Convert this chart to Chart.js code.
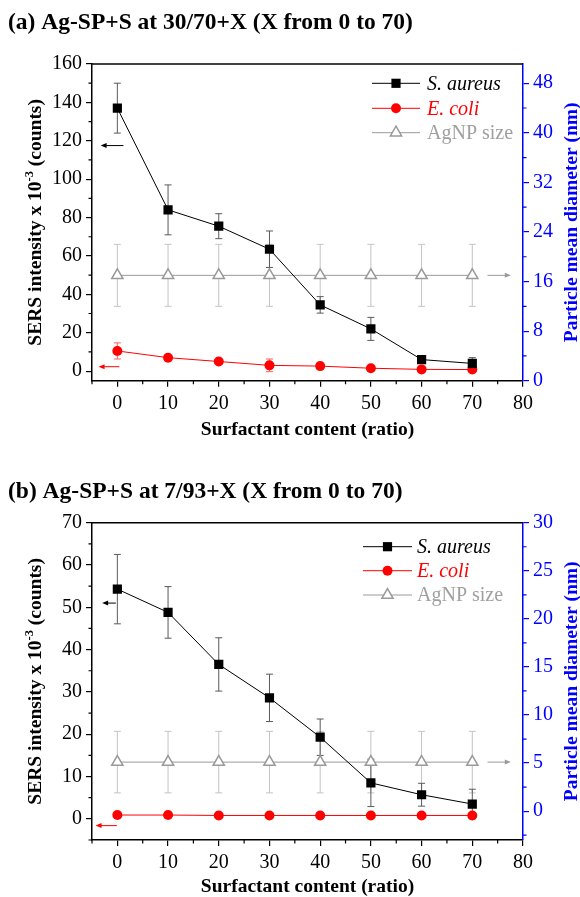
<!DOCTYPE html>
<html>
<head>
<meta charset="utf-8">
<script src="https://cdn.jsdelivr.net/npm/chart.js@4.4.1/dist/chart.umd.min.js"></script>
<style>
  html, body { margin: 0; padding: 0; background: #fff; }
  canvas { display: block; }
</style>
</head>
<body>
<canvas id="chart-a" width="580" height="448"></canvas>
<canvas id="chart-b" width="580" height="449"></canvas>
<script>
/* ── DATA ─────────────────────────────────────────────────────────── */
const ratio = [0, 10, 20, 30, 40, 50, 60, 70];
const xTicks = [0, 10, 20, 30, 40, 50, 60, 70, 80];
const xMinor = [-5, 5, 15, 25, 35, 45, 55, 65, 75];

// (a) Ag-SP+S at 30/70+X
const aureusA = [137, 84, 75.5, 63.5, 34.5, 22, 6, 4];
const aureusErrA = [13, 13, 6.5, 9.5, 4.3, 6, 2, 3];
const coliA = [10.5, 7, 5, 3, 2.6, 1.5, 0.9, 0.8];
const coliErrA = [4.2, 1, 1, 3.3, 1, 1, 0.5, 0.5];
const sizeA = [17, 17, 17, 17, 17, 17, 17, 17];
const sizeErrA = [5, 5, 5, 5, 5, 5, 5, 5];
const leftTicksA = [0, 20, 40, 60, 80, 100, 120, 140, 160];
const leftMinorA = [10, 30, 50, 70, 90, 110, 130, 150];
const rightTicksA = [0, 8, 16, 24, 32, 40, 48];
const rightMinorA = [4, 12, 20, 28, 36, 44];

// (b) Ag-SP+S at 7/93+X
const aureusB = [54.3, 48.8, 36.5, 28.6, 19.3, 8.5, 5.7, 3.5];
const aureusErrB = [8.2, 6.1, 6.3, 5.6, 4.3, 5.6, 2.7, 3.5];
const coliB = [0.9, 0.9, 0.8, 0.8, 0.8, 0.8, 0.8, 0.8];
const coliErrB = [0.3, 0.3, 0.3, 0.3, 0.3, 0.3, 0.3, 0.3];
const sizeB = [5.1, 5.1, 5.1, 5.1, 5.1, 5.1, 5.1, 5.1];
const sizeErrB = [3.2, 3.2, 3.2, 3.2, 3.2, 3.2, 3.2, 3.2];
const leftTicksB = [0, 10, 20, 30, 40, 50, 60, 70];
const leftMinorB = [-5, 5, 15, 25, 35, 45, 55, 65];
const rightTicksB = [0, 5, 10, 15, 20, 25, 30];
const rightMinorB = [-2.5, 2.5, 7.5, 12.5, 17.5, 22.5, 27.5];

/* ── STYLE ────────────────────────────────────────────────────────── */
const SERIF = "'Liberation Serif', 'Times New Roman', serif";
const BLUE = "#0000ff";
const RED = "#ff0000";
const GRAY = "#9a9a9a";

const panels = {
  "chart-a": {
    title: "(a) Ag-SP+S at 30/70+X (X from 0 to 70)",
    titleTop: 8.4, titleBottom: 27.4,
    xHeight: 67.3, xTitlePad: 8.2,
    yMin: -5, yMax: 160, y2Min: 0, y2Max: 51.1,
    aureus: aureusA, aureusErr: aureusErrA,
    coli: coliA, coliErr: coliErrA,
    size: sizeA, sizeErr: sizeErrA,
    leftTicks: leftTicksA, leftMinor: leftMinorA,
    rightTicks: rightTicksA, rightMinor: rightMinorA,
    arrows: [
      { axis: "y", y: 117.5, from: 1.2, to: -3.3, color: "#000" },
      { axis: "y", y: 2.3, from: 0.4, to: -3.7, color: RED },
      { axis: "y2", y: 17, from: 73, to: 77.6, color: GRAY },
    ],
    legend: { x0: 372, x1: 420, tx: 427, rows: [83.3, 108.3, 132.7] },
    yTitleX: 34, y2TitleX: 570,
  },
  "chart-b": {
    title: "(b) Ag-SP+S at 7/93+X (X from 0 to 70)",
    titleTop: 29.9, titleBottom: 16.6,
    xHeight: 57, xTitlePad: 0.6,
    yMin: -5, yMax: 70, y2Min: -3, y2Max: 30,
    aureus: aureusB, aureusErr: aureusErrB,
    coli: coliB, coliErr: coliErrB,
    size: sizeB, sizeErr: sizeErrB,
    leftTicks: leftTicksB, leftMinor: leftMinorB,
    rightTicks: rightTicksB, rightMinor: rightMinorB,
    arrows: [
      { axis: "y", y: 51, from: -0.3, to: -3.0, color: "#000" },
      { axis: "y", y: -1.6, from: -0.1, to: -4.3, color: RED },
      { axis: "y2", y: 5.1, from: 73, to: 77.6, color: GRAY },
    ],
    legend: { x0: 363, x1: 412, tx: 417, rows: [98.7, 122.7, 147] },
    yTitleX: 34, y2TitleX: 570,
  },
};

/* ── DECOR PLUGIN: error bars, minor ticks, arrows, legend, y titles ─ */
function drawErrorBars(chart, axis, values, errs, color) {
  const ctx = chart.ctx;
  const xs = chart.scales.x;
  const ys = chart.scales[axis];
  ctx.save();
  ctx.strokeStyle = color;
  ctx.lineWidth = 1;
  values.forEach((v, i) => {
    const px = xs.getPixelForValue(ratio[i]);
    const top = ys.getPixelForValue(v + errs[i]);
    const bot = ys.getPixelForValue(v - errs[i]);
    ctx.beginPath();
    ctx.moveTo(px, top); ctx.lineTo(px, bot);
    ctx.moveTo(px - 3.5, top); ctx.lineTo(px + 3.5, top);
    ctx.moveTo(px - 3.5, bot); ctx.lineTo(px + 3.5, bot);
    ctx.stroke();
  });
  ctx.restore();
}

function drawMinor(chart, axis, values, color) {
  const ctx = chart.ctx;
  const s = chart.scales[axis];
  const a = chart.chartArea;
  ctx.save();
  ctx.strokeStyle = color;
  ctx.lineWidth = 1.2;
  ctx.beginPath();
  values.forEach((v) => {
    const p = s.getPixelForValue(v);
    if (axis === "x") { ctx.moveTo(p, a.bottom); ctx.lineTo(p, a.bottom + 3.5); }
    else if (axis === "y") { ctx.moveTo(a.left, p); ctx.lineTo(a.left - 3.5, p); }
    else { ctx.moveTo(a.right, p); ctx.lineTo(a.right + 3.5, p); }
  });
  ctx.stroke();
  ctx.restore();
}

function drawArrow(chart, ar) {
  const ctx = chart.ctx;
  const xs = chart.scales.x;
  const ys = chart.scales[ar.axis];
  const y = ys.getPixelForValue(ar.y);
  const x1 = xs.getPixelForValue(ar.from);
  const x2 = xs.getPixelForValue(ar.to);
  const dir = Math.sign(x2 - x1);
  ctx.save();
  ctx.strokeStyle = ar.color;
  ctx.fillStyle = ar.color;
  ctx.lineWidth = 1;
  ctx.beginPath();
  ctx.moveTo(x1, y); ctx.lineTo(x2 - dir * 3, y);
  ctx.stroke();
  ctx.beginPath();
  ctx.moveTo(x2, y);
  ctx.lineTo(x2 - dir * 6, y - 2.5);
  ctx.lineTo(x2 - dir * 6, y + 2.5);
  ctx.closePath();
  ctx.fill();
  ctx.restore();
}

function drawVTitle(ctx, cx, cy, parts, color) {
  ctx.save();
  ctx.translate(cx, cy);
  ctx.rotate(-Math.PI / 2);
  ctx.fillStyle = color;
  ctx.textBaseline = "alphabetic";
  ctx.textAlign = "left";
  let total = 0;
  parts.forEach((p) => {
    ctx.font = `bold ${p.size}px ${SERIF}`;
    p.w = ctx.measureText(p.text).width;
    total += p.w;
  });
  let x = -total / 2;
  parts.forEach((p) => {
    ctx.font = `bold ${p.size}px ${SERIF}`;
    ctx.fillText(p.text, x, 7 - (p.rise || 0));
    x += p.w;
  });
  ctx.restore();
}

const legendItems = [
  { text: "S. aureus", color: "#000", style: "rect", radius: 6.5, fill: "#000", border: 0, line: "#000" },
  { text: "E. coli", color: RED, style: "circle", radius: 5, fill: RED, border: 0, line: RED },
  { text: "AgNP size", color: "#a0a0a0", style: "triangle", radius: 6.5, fill: "#fff", border: 1.5, line: GRAY },
];

const decor = {
  id: "decor",
  beforeDatasetsDraw(chart) {
    const p = panels[chart.canvas.id];
    drawErrorBars(chart, "y2", p.size, p.sizeErr, "#c4c4c4");
    drawErrorBars(chart, "y", p.coli, p.coliErr, "#ff6060");
    drawErrorBars(chart, "y", p.aureus, p.aureusErr, "#5a5a5a");
  },
  afterDraw(chart) {
    const p = panels[chart.canvas.id];
    const ctx = chart.ctx;
    const a = chart.chartArea;

    // top frame line
    ctx.save();
    ctx.strokeStyle = "#000";
    ctx.lineWidth = 1.5;
    ctx.beginPath();
    ctx.moveTo(a.left, a.top); ctx.lineTo(a.right, a.top);
    ctx.stroke();
    ctx.restore();

    drawMinor(chart, "x", xMinor, "#000");
    drawMinor(chart, "y", p.leftMinor, "#000");
    drawMinor(chart, "y2", p.rightMinor, BLUE);

    p.arrows.forEach((ar) => drawArrow(chart, ar));

    // legend
    const lg = p.legend;
    legendItems.forEach((it, i) => {
      const y = lg.rows[i];
      ctx.save();
      ctx.strokeStyle = it.line;
      ctx.lineWidth = 1;
      ctx.beginPath();
      ctx.moveTo(lg.x0, y); ctx.lineTo(lg.x1, y);
      ctx.stroke();
      ctx.fillStyle = it.fill;
      ctx.strokeStyle = it.line;
      ctx.lineWidth = it.border;
      Chart.helpers.drawPoint(ctx, { pointStyle: it.style, radius: it.radius, borderWidth: it.border, rotation: 0 },
        (lg.x0 + lg.x1) / 2, y);
      ctx.fillStyle = it.color;
      ctx.font = `${i < 2 ? "italic " : ""}20px ${SERIF}`;
      ctx.textBaseline = "middle";
      ctx.textAlign = "left";
      ctx.fillText(it.text, lg.tx, y + 1);
      ctx.restore();
    });

    // axis titles
    const cy = (a.top + a.bottom) / 2;
    drawVTitle(ctx, p.yTitleX, cy, [
      { text: "SERS intensity x 10", size: 19.5 },
      { text: "-3", size: 12.5, rise: 8 },
      { text: " (counts)", size: 19.5 },
    ], "#000");
    drawVTitle(ctx, p.y2TitleX, cy, [{ text: "Particle mean diameter (nm)", size: 19.5 }], BLUE);
  },
};

/* ── CHART ────────────────────────────────────────────────────────── */
function pts(values) {
  return values.map((v, i) => ({ x: ratio[i], y: v }));
}

function tickList(list) {
  return (s) => { s.ticks = list.map((v) => ({ value: v })); };
}

function makeChart(id) {
  const p = panels[id];
  const tickFont = { family: SERIF, size: 20 };
  return new Chart(document.getElementById(id), {
    type: "line",
    data: {
      datasets: [
        {
          label: "S. aureus", data: pts(p.aureus), yAxisID: "y",
          borderColor: "#000", borderWidth: 1, tension: 0,
          pointStyle: "rect", pointRadius: 6.5, pointBackgroundColor: "#000", pointBorderWidth: 0,
        },
        {
          label: "E. coli", data: pts(p.coli), yAxisID: "y",
          borderColor: RED, borderWidth: 1, tension: 0,
          pointStyle: "circle", pointRadius: 5, pointBackgroundColor: RED, pointBorderWidth: 0,
        },
        {
          label: "AgNP size", data: pts(p.size), yAxisID: "y2",
          borderColor: GRAY, borderWidth: 1, tension: 0,
          pointStyle: "triangle", pointRadius: 6.5, pointBackgroundColor: "#fff",
          pointBorderColor: GRAY, pointBorderWidth: 1.5,
        },
      ],
    },
    options: {
      responsive: false,
      animation: false,
      events: [],
      layout: { padding: { left: 8, right: 0, top: 0, bottom: 0 } },
      plugins: {
        legend: { display: false },
        tooltip: { enabled: false },
        title: {
          display: true, text: p.title, align: "start", color: "#000",
          font: { family: SERIF, size: 23.5, weight: "bold", lineHeight: 1.2 },
          padding: { top: p.titleTop, bottom: p.titleBottom },
        },
      },
      scales: {
        x: {
          type: "linear", min: -5, max: 80,
          afterBuildTicks: tickList(xTicks),
          afterFit: (s) => { s.height = p.xHeight; },
          grid: { drawOnChartArea: false, tickLength: 6, color: "#000", lineWidth: 1.2 },
          border: { color: "#000", width: 1.5 },
          ticks: { color: "#000", font: tickFont, padding: 5, maxRotation: 0, autoSkip: false },
          title: {
            display: true, text: "Surfactant content (ratio)", color: "#000",
            font: { family: SERIF, size: 19.5, weight: "bold", lineHeight: 1 },
            padding: { top: 0, bottom: p.xTitlePad },
          },
        },
        y: {
          type: "linear", position: "left", min: p.yMin, max: p.yMax,
          afterBuildTicks: tickList(p.leftTicks),
          afterFit: (s) => { s.width = 84; },
          grid: { drawOnChartArea: false, tickLength: 6, color: "#000", lineWidth: 1.2 },
          border: { color: "#000", width: 1.5 },
          ticks: { color: "#000", font: tickFont, padding: 4, autoSkip: false },
        },
        y2: {
          type: "linear", position: "right", min: p.y2Min, max: p.y2Max,
          afterBuildTicks: tickList(p.rightTicks),
          afterFit: (s) => { s.width = 57; },
          grid: { drawOnChartArea: false, tickLength: 6, color: BLUE, lineWidth: 1.2 },
          border: { color: BLUE, width: 1.5 },
          ticks: { color: BLUE, font: tickFont, padding: 4, autoSkip: false },
        },
      },
    },
    plugins: [decor],
  });
}

makeChart("chart-a");
makeChart("chart-b");
</script>
</body>
</html>
